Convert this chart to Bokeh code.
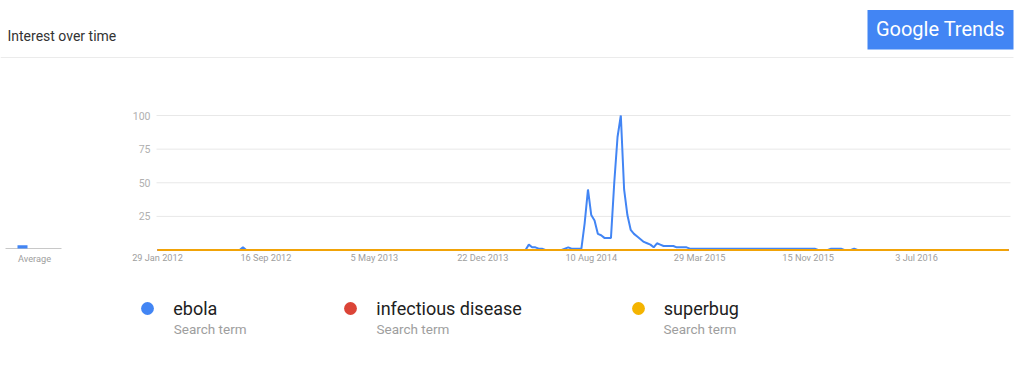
import pandas as pd
from bokeh.plotting import figure
from bokeh.models import Range1d, Legend, LegendItem, ColumnDataSource
from bokeh.core.properties import value
from bokeh.embed import file_html
from bokeh.resources import INLINE

# ---------------- data ----------------
start_date = "2012-01-29"
n_weeks = 260
series_names = ["ebola", "infectious disease", "superbug"]
series_colors = ["#4285f4", "#db4437", "#f4b400"]
legend_subtitle = "Search term"

ebola = [
    0, 0, 0, 0, 0, 0, 0, 0, 0, 0, 0, 0, 0, 0, 0, 0, 0, 0, 0, 0,
    0, 0, 0, 0, 0, 0, 2, 0, 0, 0, 0, 0, 0, 0, 0, 0, 0, 0, 0, 0,
    0, 0, 0, 0, 0, 0, 0, 0, 0, 0, 0, 0, 0, 0, 0, 0, 0, 0, 0, 0,
    0, 0, 0, 0, 0, 0, 0, 0, 0, 0, 0, 0, 0, 0, 0, 0, 0, 0, 0, 0,
    0, 0, 0, 0, 0, 0, 0, 0, 0, 0, 0, 0, 0, 0, 0, 0, 0, 0, 0, 0,
    0, 0, 0, 0, 0, 0, 0, 0, 0, 0, 0, 0, 0, 4, 2, 2, 1, 1, 0, 0,
    0, 0, 0, 0, 1, 2, 1, 1, 1, 1, 20, 45, 26, 22, 12, 11, 9, 9, 9, 50,
    84, 100, 45, 26, 15, 12, 10, 8, 6, 5, 4, 2, 5, 4, 3, 3, 3, 3, 2, 2,
    2, 2, 1, 1, 1, 1, 1, 1, 1, 1, 1, 1, 1, 1, 1, 1, 1, 1, 1, 1,
    1, 1, 1, 1, 1, 1, 1, 1, 1, 1, 1, 1, 1, 1, 1, 1, 1, 1, 1, 1,
    1, 0, 0, 0, 0, 1, 1, 1, 1, 0, 0, 0, 1, 0, 0, 0, 0, 0, 0, 0,
    0, 0, 0, 0, 0, 0, 0, 0, 0, 0, 0, 0, 0, 0, 0, 0, 0, 0, 0, 0,
    0, 0, 0, 0, 0, 0, 0, 0, 0, 0, 0, 0, 0, 0, 0, 0, 0, 0, 0, 0,
]

infectious_disease = [
    0, 0, 0, 0, 0, 0, 0, 0, 0, 0, 0, 0, 0, 0, 0, 0, 0, 0, 0, 0,
    0, 0, 0, 0, 0, 0, 0, 0, 0, 0, 0, 0, 0, 0, 0, 0, 0, 0, 0, 0,
    0, 0, 0, 0, 0, 0, 0, 0, 0, 0, 0, 0, 0, 0, 0, 0, 0, 0, 0, 0,
    0, 0, 0, 0, 0, 0, 0, 0, 0, 0, 0, 0, 0, 0, 0, 0, 0, 0, 0, 0,
    0, 0, 0, 0, 0, 0, 0, 0, 0, 0, 0, 0, 0, 0, 0, 0, 0, 0, 0, 0,
    0, 0, 0, 0, 0, 0, 0, 0, 0, 0, 0, 0, 0, 0, 0, 0, 0, 0, 0, 0,
    0, 0, 0, 0, 0, 0, 0, 0, 0, 0, 0, 0, 0, 0, 0, 0, 0, 0, 0, 0,
    0, 0, 0, 0, 0, 0, 0, 0, 0, 0, 0, 0, 0, 0, 0, 0, 0, 0, 0, 0,
    0, 0, 0, 0, 0, 0, 0, 0, 0, 0, 0, 0, 0, 0, 0, 0, 0, 0, 0, 0,
    0, 0, 0, 0, 0, 0, 0, 0, 0, 0, 0, 0, 0, 0, 0, 0, 0, 0, 0, 0,
    0, 0, 0, 0, 0, 0, 0, 0, 0, 0, 0, 0, 0, 0, 0, 0, 0, 0, 0, 0,
    0, 0, 0, 0, 0, 0, 0, 0, 0, 0, 0, 0, 0, 0, 0, 0, 0, 0, 0, 0,
    0, 0, 0, 0, 0, 0, 0, 0, 0, 0, 0, 0, 0, 0, 0, 0, 0, 0, 0, 0,
]

superbug = [
    0, 0, 0, 0, 0, 0, 0, 0, 0, 0, 0, 0, 0, 0, 0, 0, 0, 0, 0, 0,
    0, 0, 0, 0, 0, 0, 0, 0, 0, 0, 0, 0, 0, 0, 0, 0, 0, 0, 0, 0,
    0, 0, 0, 0, 0, 0, 0, 0, 0, 0, 0, 0, 0, 0, 0, 0, 0, 0, 0, 0,
    0, 0, 0, 0, 0, 0, 0, 0, 0, 0, 0, 0, 0, 0, 0, 0, 0, 0, 0, 0,
    0, 0, 0, 0, 0, 0, 0, 0, 0, 0, 0, 0, 0, 0, 0, 0, 0, 0, 0, 0,
    0, 0, 0, 0, 0, 0, 0, 0, 0, 0, 0, 0, 0, 0, 0, 0, 0, 0, 0, 0,
    0, 0, 0, 0, 0, 0, 0, 0, 0, 0, 0, 0, 0, 0, 0, 0, 0, 0, 0, 0,
    0, 0, 0, 0, 0, 0, 0, 0, 0, 0, 0, 0, 0, 0, 0, 0, 0, 0, 0, 0,
    0, 0, 0, 0, 0, 0, 0, 0, 0, 0, 0, 0, 0, 0, 0, 0, 0, 0, 0, 0,
    0, 0, 0, 0, 0, 0, 0, 0, 0, 0, 0, 0, 0, 0, 0, 0, 0, 0, 0, 0,
    0, 0, 0, 0, 0, 0, 0, 0, 0, 0, 0, 0, 0, 0, 0, 0, 0, 0, 0, 0,
    0, 0, 0, 0, 0, 0, 0, 0, 0, 0, 0, 0, 0, 0, 0, 0, 0, 0, 0, 0,
    0, 0, 0, 0, 0, 0, 0, 0, 0, 0, 0, 0, 0, 0, 0, 0, 0, 0, 0, 0,
]

x_tick_dates = ["2012-01-29", "2012-09-16", "2013-05-05", "2013-12-22",
                "2014-08-10", "2015-03-29", "2015-11-15", "2016-07-03"]
x_tick_labels = ["29 Jan 2012", "16 Sep 2012", "5 May 2013", "22 Dec 2013",
                 "10 Aug 2014", "29 Mar 2015", "15 Nov 2015", "3 Jul 2016"]
y_ticks = [25, 50, 75, 100]
y_tick_labels = ["25", "50", "75", "100"]

title_text = "Interest over time"
logo_text = "Google Trends"
average_text = "Average"

# ---------------- layout (canvas pixels, y downward) ----------------
W, H = 1024, 370
CHART_L, CHART_R = 156, 1010
FIRST_X = 157          # canvas x of the first week
PX_PER_WEEK = 3.286
ZERO_PX = 249.5        # canvas y of value 0
PPU = 1.345            # pixels per value unit
FONT = value("Roboto")

dates = pd.date_range(start_date, periods=n_weeks, freq="7D")
src = ColumnDataSource(dict(date=dates, ebola=ebola,
                            infectious=infectious_disease, superbug=superbug))

t0 = dates[0].value / 1e6
ms_per_px = 7 * 86400000 / PX_PER_WEEK


def t_at(px):
    return t0 + (px - FIRST_X) * ms_per_px


def v_at(py):
    return (ZERO_PX - py) / PPU


p = figure(width=W, height=H, x_range=Range1d(0, W), y_range=Range1d(H, 0),
           min_border=0, x_axis_type=None, y_axis_type=None,
           output_backend="svg", toolbar_location=None)
p.extra_x_ranges = {"t": Range1d(t_at(0), t_at(W))}
p.extra_y_ranges = {"v": Range1d(v_at(H), v_at(0))}
p.background_fill_color = "white"
p.border_fill_color = "white"
p.outline_line_color = None
p.grid.visible = False

# gridlines
p.segment(x0=t_at(CHART_L), x1=t_at(CHART_R), y0=y_ticks, y1=y_ticks,
          x_range_name="t", y_range_name="v", line_color="#e8e8e8", line_width=1)

# y tick labels
p.text(x=150, y=y_ticks, text=y_tick_labels, y_range_name="v",
       text_font=FONT, text_font_size="10.5px", text_color="#b0b0b0",
       text_align="right", text_baseline="middle")

# x tick labels
tick_ms = [pd.Timestamp(d).value / 1e6 for d in x_tick_dates]
p.text(x=tick_ms, y=257, text=x_tick_labels, x_range_name="t",
       text_font=FONT, text_font_size="9.2px", text_color="#9e9e9e",
       text_align="center", text_baseline="middle")

# series lines
cols = ["ebola", "infectious", "superbug"]
alphas = [1.0, 1.0, 0.85]
for col, color, a in zip(cols, series_colors, alphas):
    p.line("date", col, source=src, x_range_name="t", y_range_name="v",
           line_color=color, line_width=2, line_alpha=a)

# legend
legend_items = []
for col, name, color in zip(cols, series_names, series_colors):
    r = p.scatter("date", col, source=src, x_range_name="t", y_range_name="v",
                  size=0, fill_color=color, line_color=None, visible=False)
    legend_items.append(LegendItem(label=name, renderers=[r]))

legend = Legend(items=legend_items, orientation="horizontal",
                location=(131.3, H - 324),
                glyph_width=32, glyph_height=32, label_standoff=10,
                spacing=100, label_width=61, padding=0, margin=0,
                border_line_alpha=0, background_fill_alpha=0,
                label_text_font="Roboto", label_text_font_size="18px",
                label_text_color="#212121", click_policy="none")
p.add_layout(legend, "center")

p.text(x=[173.3, 376, 663], y=328.5, text=[legend_subtitle] * 3,
       text_font=FONT, text_font_size="13.5px", text_color="#9e9e9e",
       text_baseline="middle")

# header
p.text(x=7, y=35.5, text=[title_text], text_font=FONT, text_font_size="14px",
       text_color="#333333", text_baseline="middle")
p.segment(x0=0, x1=1013, y0=57, y1=57, line_color="#ebebeb", line_width=1)
p.quad(left=867, right=1013, top=9.5, bottom=49, fill_color="#4285f4", line_color=None)
p.text(x=940, y=28, text=[logo_text], text_font=FONT, text_font_size="20px",
       text_color="white", text_align="center", text_baseline="middle")

# average panel
p.segment(x0=5, x1=61, y0=248, y1=248, line_color="#c8c8c8", line_width=1)
means = [sum(v) / len(v) for v in (ebola, infectious_disease, superbug)]
p.quad(left=[17, 27, 37], right=[27, 37, 47], bottom=248,
       top=[248 - m * PPU for m in means], fill_color=series_colors, line_color=None)
p.text(x=34, y=258, text=[average_text], text_font=FONT, text_font_size="9.2px",
       text_color="#9e9e9e", text_align="center", text_baseline="middle")

open("out.html", "w").write(file_html(p, INLINE))
